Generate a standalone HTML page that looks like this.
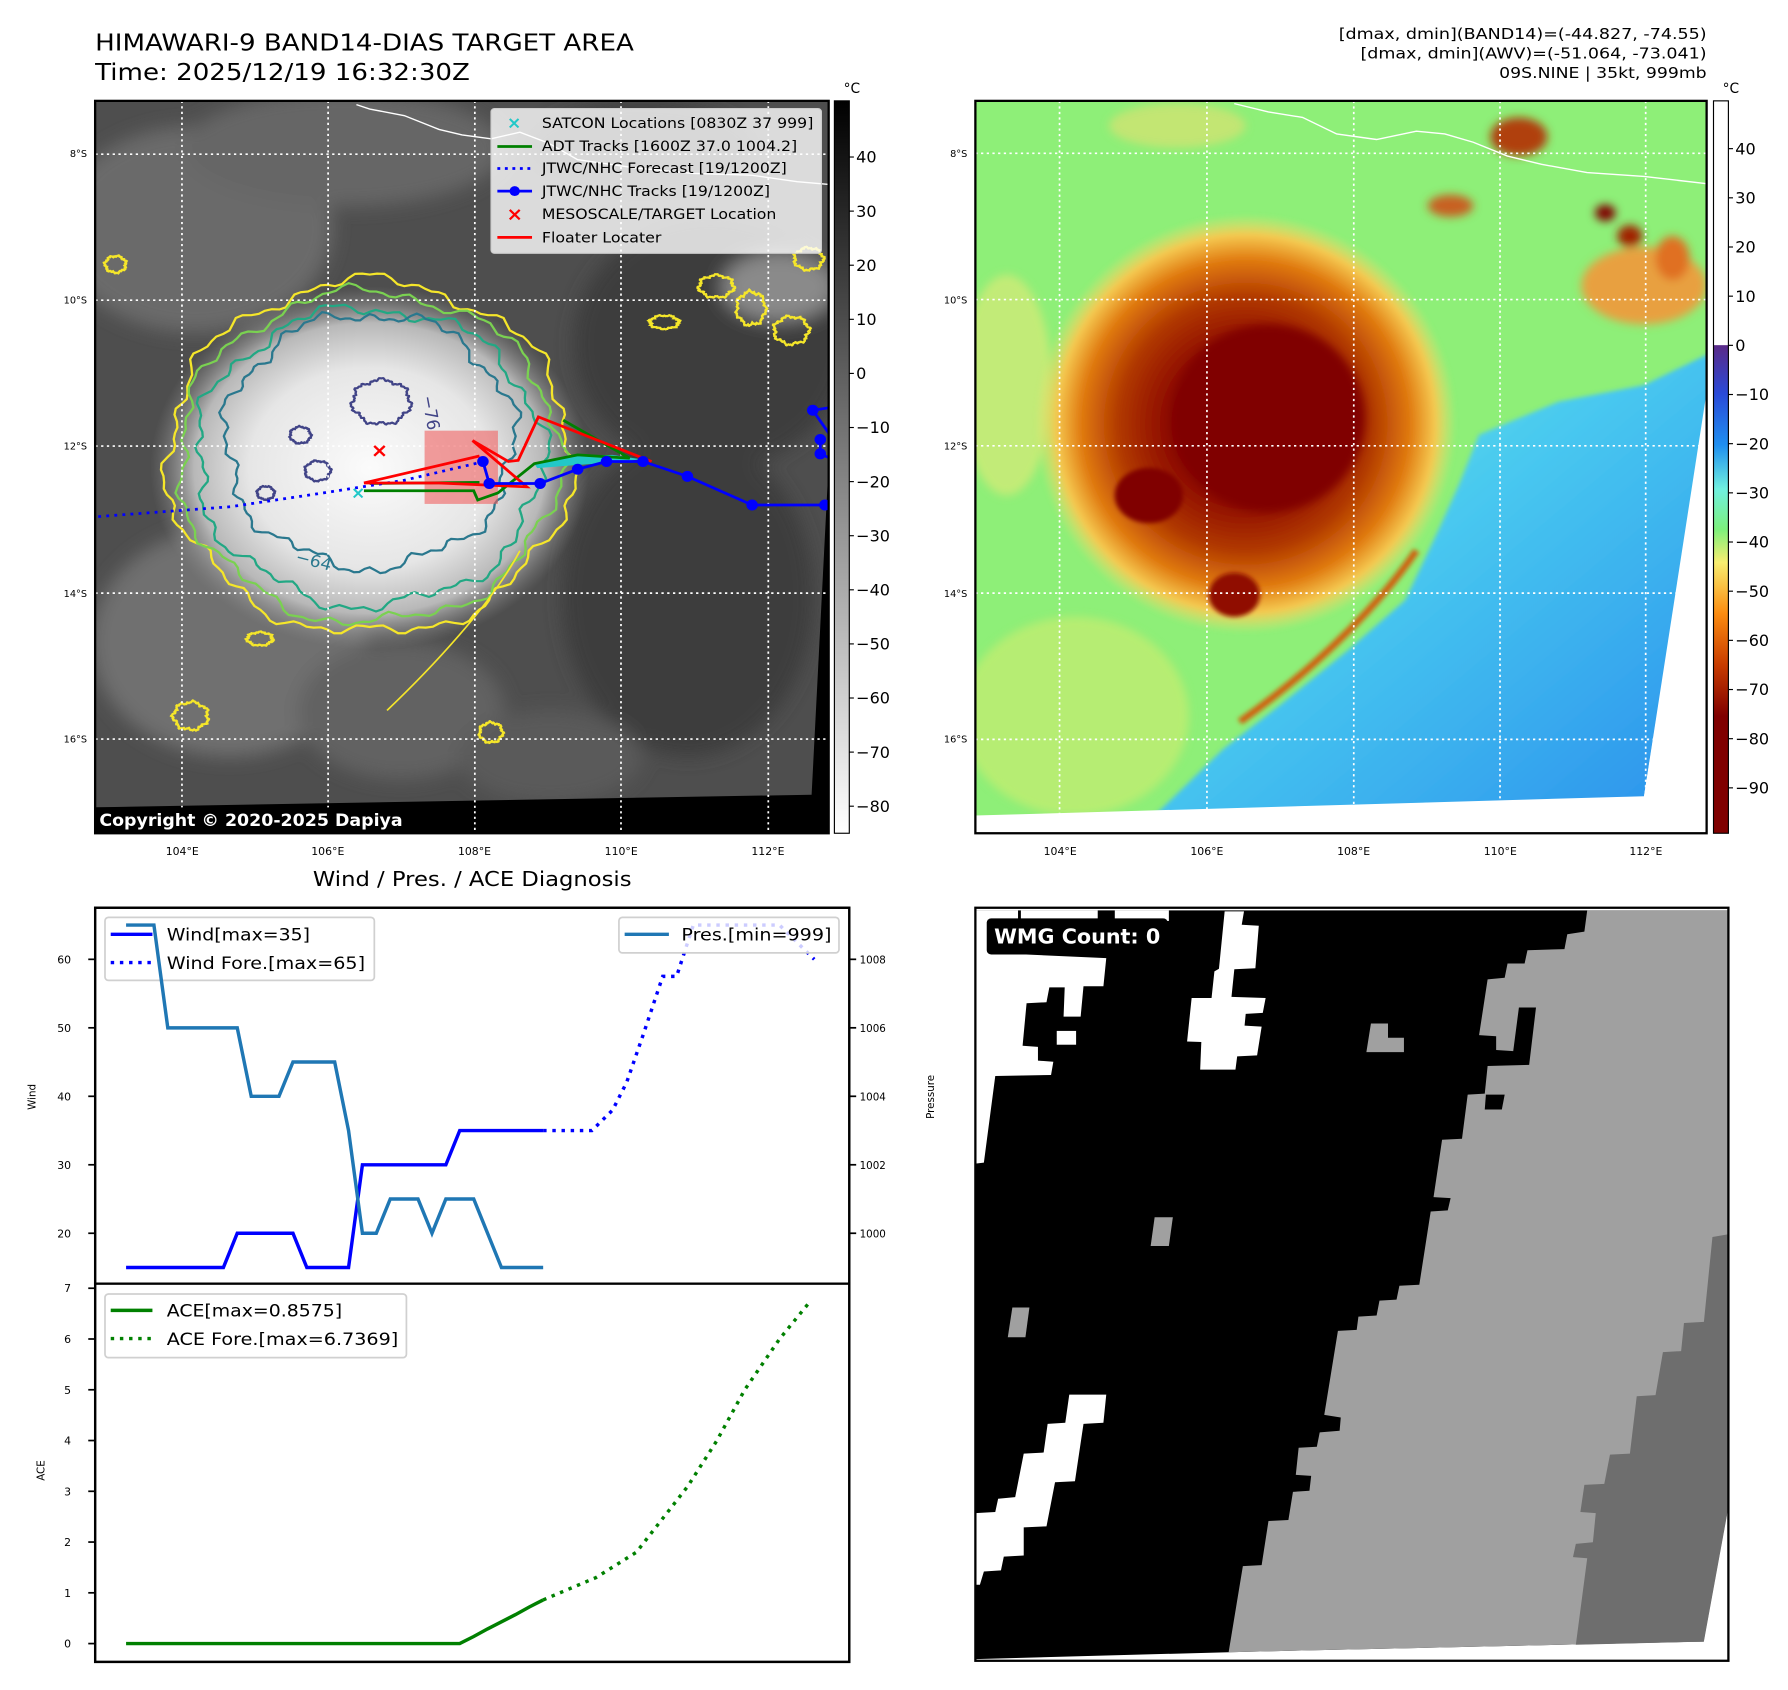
<!DOCTYPE html>
<html><head><meta charset="utf-8">
<style>
html,body{margin:0;padding:0;background:#fff;}
svg{display:block;}
text{font-family:"DejaVu Sans","Liberation Sans",sans-serif;}
</style></head>
<body>
<svg id="root" width="1788" height="1690" viewBox="0 0 1560 1474.5" preserveAspectRatio="none" xmlns="http://www.w3.org/2000/svg">
<defs>
  <linearGradient id="cbGray" x1="0" y1="0" x2="0" y2="1">
    <stop offset="0" stop-color="#000"/><stop offset="1" stop-color="#fff"/>
  </linearGradient>
  <linearGradient id="cbColor" x1="0" y1="0" x2="0" y2="1">
    <stop offset="0" stop-color="#fff"/>
    <stop offset="0.333" stop-color="#fff"/>
    <stop offset="0.334" stop-color="#5a2a88"/>
    <stop offset="0.40" stop-color="#2a4ad8"/>
    <stop offset="0.47" stop-color="#1f8ff0"/>
    <stop offset="0.53" stop-color="#70f0e0"/>
    <stop offset="0.585" stop-color="#7cf07c"/>
    <stop offset="0.63" stop-color="#f8ee70"/>
    <stop offset="0.70" stop-color="#fb8c10"/>
    <stop offset="0.77" stop-color="#c83c00"/>
    <stop offset="0.84" stop-color="#800000"/>
    <stop offset="1" stop-color="#800000"/>
  </linearGradient>
  <radialGradient id="cloudW" cx="0.5" cy="0.5" r="0.5">
    <stop offset="0" stop-color="#fbfbfb"/><stop offset="0.55" stop-color="#e6e6e6"/>
    <stop offset="0.8" stop-color="#b8b8b8"/><stop offset="1" stop-color="#888" stop-opacity="0"/>
  </radialGradient>
  <radialGradient id="stormR" cx="0.5" cy="0.5" r="0.5">
    <stop offset="0" stop-color="#7a0000"/><stop offset="0.35" stop-color="#8a0600"/>
    <stop offset="0.6" stop-color="#b03800"/><stop offset="0.78" stop-color="#e07a10"/>
    <stop offset="0.9" stop-color="#f5c850"/><stop offset="1" stop-color="#f5e070" stop-opacity="0"/>
  </radialGradient>
  <linearGradient id="oceanB" x1="0" y1="0" x2="1" y2="1">
    <stop offset="0" stop-color="#78f2d8"/><stop offset="0.45" stop-color="#48c8f0"/><stop offset="1" stop-color="#2a90ec"/>
  </linearGradient>
  <filter id="blur8"><feGaussianBlur stdDeviation="8"/></filter>
  <filter id="blur4"><feGaussianBlur stdDeviation="4"/></filter>
  <clipPath id="clipTL"><rect x="83" y="88" width="640" height="639"/></clipPath>
  <clipPath id="clipTR"><rect x="851" y="88" width="638" height="639"/></clipPath>
  <clipPath id="clipBR"><rect x="851" y="792" width="657" height="657"/></clipPath>
  <clipPath id="clipUp"><rect x="83" y="792" width="658" height="328"/></clipPath>
  <clipPath id="clipLo"><rect x="83" y="1120" width="658" height="330"/></clipPath>
</defs>

<!-- ============ TITLES ============ -->
<text x="83" y="44" font-size="20" textLength="470" lengthAdjust="spacingAndGlyphs">HIMAWARI-9 BAND14-DIAS TARGET AREA</text>
<text x="83" y="70" font-size="20" textLength="327" lengthAdjust="spacingAndGlyphs">Time: 2025/12/19 16:32:30Z</text>
<g font-size="13" text-anchor="end">
  <text x="1489" y="34" textLength="321" lengthAdjust="spacingAndGlyphs">[dmax, dmin](BAND14)=(-44.827, -74.55)</text>
  <text x="1489" y="51" textLength="302" lengthAdjust="spacingAndGlyphs">[dmax, dmin](AWV)=(-51.064, -73.041)</text>
  <text x="1489" y="68" textLength="181" lengthAdjust="spacingAndGlyphs">09S.NINE | 35kt, 999mb</text>
</g>

<!-- ============ TOP-LEFT MAP ============ -->
<g>
 <g clip-path="url(#clipTL)">
  <rect x="83" y="88" width="640" height="639" fill="#4e4e4e"/>
  <g filter="url(#blur8)">
    <ellipse cx="170" cy="200" rx="120" ry="90" fill="#6a6a6a"/>
    <ellipse cx="300" cy="130" rx="140" ry="50" fill="#666"/>
    <ellipse cx="200" cy="560" rx="120" ry="100" fill="#707070"/>
    <ellipse cx="350" cy="620" rx="90" ry="60" fill="#626262"/>
    <ellipse cx="620" cy="300" rx="120" ry="110" fill="#3c3c3c"/>
    <ellipse cx="600" cy="520" rx="110" ry="140" fill="#3e3e3e"/>
    <ellipse cx="560" cy="130" rx="100" ry="40" fill="#3d3d3d"/>
    <ellipse cx="680" cy="250" rx="50" ry="30" fill="#8a8a8a"/>
    <ellipse cx="480" cy="660" rx="80" ry="40" fill="#5a5a5a"/>
  </g>
  <g transform="matrix(0.504,0,0,0.4805,0,0)">
    <ellipse cx="640" cy="850" rx="380" ry="330" fill="url(#cloudW)"/>
    <g id="contours" fill="none" stroke-width="4"></g>
    <polygon points="1437,790 1437,1520 160,1520 160,1466 1405,1443" fill="#000"/>
    <polyline points="617,190 640,198 700,210 760,235 800,245 850,252 900,240 950,260 1000,290 1100,305 1200,315 1300,318 1380,330 1437,335" fill="none" stroke="#fff" stroke-width="2.5"/>
    <g stroke="#fff" stroke-width="3" stroke-dasharray="4,6">
      <line x1="315" y1="183" x2="315" y2="1513"/><line x1="568" y1="183" x2="568" y2="1513"/>
      <line x1="822" y1="183" x2="822" y2="1513"/><line x1="1075" y1="183" x2="1075" y2="1513"/>
      <line x1="1330" y1="183" x2="1330" y2="1513"/>
      <line x1="165" y1="280" x2="1435" y2="280"/><line x1="165" y1="545" x2="1435" y2="545"/>
      <line x1="165" y1="810" x2="1435" y2="810"/><line x1="165" y1="1077" x2="1435" y2="1077"/>
      <line x1="165" y1="1342" x2="1435" y2="1342"/>
    </g>
    <rect x="735" y="782" width="127" height="133" fill="#f06060" fill-opacity="0.6"/>
    <path d="M925,842 L1000,828 L1060,826 L1110,834 L1060,840 L990,845 L930,850 Z" fill="#22c8c8"/>
    <polyline points="630,891 820,891 827,908 862,895 925,842 1000,826 1090,832 975,763" fill="none" stroke="#008000" stroke-width="5"/>
    <polyline points="640,878 830,876" fill="none" stroke="#008000" stroke-width="5"/>
    <polyline points="170,938 400,920 560,895 700,872 830,840" fill="none" stroke="#0000ff" stroke-width="5" stroke-dasharray="5,9"/>
    <path d="M630,877 L830,828 M630,877 L760,877 L912,884 L818,800 L880,838 L897,836 L932,757 L1128,838" fill="none" stroke="#ff0000" stroke-width="5"/>
    <g>
      <polyline points="836,838 847,878 935,878 1000,852 1050,838 1113,838 1190,865 1302,917 1437,917" fill="none" stroke="#0000ff" stroke-width="5"/>
      <polyline points="1437,740 1407,745 1437,790" fill="none" stroke="#0000ff" stroke-width="5"/>
      <polyline points="1420,798 1420,824 1437,832" fill="none" stroke="#0000ff" stroke-width="5"/>
      <g fill="#0000ff">
        <circle cx="836" cy="838" r="10"/><circle cx="847" cy="878" r="10"/><circle cx="935" cy="878" r="10"/>
        <circle cx="1000" cy="852" r="10"/><circle cx="1050" cy="838" r="10"/><circle cx="1113" cy="838" r="10"/>
        <circle cx="1190" cy="865" r="10"/><circle cx="1302" cy="917" r="10"/><circle cx="1428" cy="917" r="10"/>
        <circle cx="1407" cy="745" r="10"/><circle cx="1420" cy="798" r="10"/><circle cx="1420" cy="824" r="10"/>
      </g>
    </g>
    <text x="657" y="830" font-size="36" fill="#ff0000" text-anchor="middle" font-weight="bold">×</text>
    <text x="620" y="905" font-size="30" fill="#22c8c8" text-anchor="middle" font-weight="bold">×</text>
    <text x="730" y="720" font-size="30" fill="#414487" transform="rotate(80 730 720)">−76</text>
    <text x="510" y="1020" font-size="30" fill="#2a788e" transform="rotate(15 510 1020)">−64</text>
    <g>
      <rect x="850" y="197" width="572" height="263" rx="6" fill="#fff" fill-opacity="0.8" stroke="#ccc" stroke-width="2"/>
      <g font-size="25" fill="#000">
        <text x="890" y="233" font-size="30" fill="#22c8c8" text-anchor="middle" font-weight="bold">×</text>
        <text x="938" y="232" textLength="470" lengthAdjust="spacingAndGlyphs">SATCON Locations [0830Z 37 999]</text>
        <line x1="861" y1="266" x2="921" y2="266" stroke="#008000" stroke-width="5"/>
        <text x="938" y="274" textLength="442" lengthAdjust="spacingAndGlyphs">ADT Tracks [1600Z 37.0 1004.2]</text>
        <line x1="861" y1="306" x2="921" y2="306" stroke="#0000ff" stroke-width="5" stroke-dasharray="5,8"/>
        <text x="938" y="314" textLength="424" lengthAdjust="spacingAndGlyphs">JTWC/NHC Forecast [19/1200Z]</text>
        <line x1="861" y1="347" x2="921" y2="347" stroke="#0000ff" stroke-width="5"/><circle cx="891" cy="347" r="9" fill="#0000ff"/>
        <text x="938" y="356" textLength="395" lengthAdjust="spacingAndGlyphs">JTWC/NHC Tracks [19/1200Z]</text>
        <text x="891" y="400" font-size="34" fill="#ff0000" text-anchor="middle" font-weight="bold">×</text>
        <text x="938" y="398" textLength="406" lengthAdjust="spacingAndGlyphs">MESOSCALE/TARGET Location</text>
        <line x1="861" y1="431" x2="921" y2="431" stroke="#ff0000" stroke-width="5"/>
        <text x="938" y="440" textLength="207" lengthAdjust="spacingAndGlyphs">Floater Locater</text>
      </g>
    </g>
    <rect x="160" y="1466" width="545" height="50" fill="#000"/>
    <text x="172" y="1500" font-size="30" fill="#fff" font-weight="bold" textLength="525" lengthAdjust="spacingAndGlyphs">Copyright © 2020-2025 Dapiya</text>
  </g>
 </g>
 <rect x="83" y="88" width="640" height="639" fill="none" stroke="#000" stroke-width="2"/>
 <g font-size="8.5" text-anchor="end">
  <text x="76" y="137">8°S</text><text x="76" y="265">10°S</text><text x="76" y="392">12°S</text>
  <text x="76" y="521">14°S</text><text x="76" y="648">16°S</text>
 </g>
 <g font-size="9.5" text-anchor="middle">
  <text x="159" y="746">104°E</text><text x="286" y="746">106°E</text><text x="414" y="746">108°E</text>
  <text x="542" y="746">110°E</text><text x="670" y="746">112°E</text>
 </g>
 <g>
  <rect x="728" y="88" width="13" height="639" fill="url(#cbGray)" stroke="#000" stroke-width="1"/>
  <text x="736" y="81" font-size="12">°C</text>
  <g id="cbTicksL" font-size="14"></g>
 </g>
</g>

<!-- ============ TOP-RIGHT MAP ============ -->
<g>
 <g clip-path="url(#clipTR)">
  <rect x="851" y="88" width="638" height="639" fill="#8eef78"/>
  <g transform="matrix(0.4965,0,0,0.4815,788.9,-1.08)">
    <g filter="url(#blur8)">
      <ellipse cx="300" cy="1300" rx="200" ry="180" fill="#c8ec70" opacity="0.7"/>
      <ellipse cx="180" cy="700" rx="80" ry="200" fill="#d8ea78" opacity="0.7"/>
      <ellipse cx="1300" cy="520" rx="110" ry="70" fill="#e8a040"/>
      <ellipse cx="1080" cy="250" rx="50" ry="35" fill="#b04010"/>
      <ellipse cx="1232" cy="388" rx="18" ry="15" fill="#800000"/>
      <ellipse cx="1275" cy="430" rx="22" ry="20" fill="#a02000"/>
      <ellipse cx="960" cy="375" rx="40" ry="20" fill="#c86020"/>
      <ellipse cx="1350" cy="470" rx="30" ry="40" fill="#e07020"/>
      <ellipse cx="480" cy="230" rx="120" ry="40" fill="#e6e070" opacity="0.6"/>
    </g>
    <path d="M1420,640 L1300,700 L1150,730 L1010,790 L975,880 L940,960 L880,1090 L780,1180 L660,1280 L560,1360 L440,1480 L1420,1480 Z" fill="url(#oceanB)" filter="url(#blur4)"/>
    <ellipse cx="600" cy="770" rx="370" ry="380" fill="url(#stormR)" filter="url(#blur4)"/>
    <ellipse cx="640" cy="760" rx="170" ry="170" fill="#800000" filter="url(#blur8)"/>
    <ellipse cx="430" cy="900" rx="60" ry="50" fill="#800000" filter="url(#blur4)"/>
    <path d="M900,1000 C820,1120 700,1230 590,1310" stroke="#d06010" stroke-width="12" fill="none" filter="url(#blur4)"/>
    <ellipse cx="580" cy="1080" rx="45" ry="40" fill="#901000" filter="url(#blur4)"/>
    <polygon points="1412,720 1300,1445 125,1480 125,1520 1420,1520" fill="#fff"/>
    <polygon points="1300,1445 1412,700 1420,700 1420,1520" fill="#fff"/>
    <polyline points="580,190 640,205 700,215 760,245 830,255 900,240 950,245 1000,260 1060,285 1120,300 1200,315 1300,322 1410,335" fill="none" stroke="#fff" stroke-width="2.5"/>
    <g stroke="#fff" stroke-width="3" stroke-dasharray="4,6">
      <line x1="273" y1="185" x2="273" y2="1512"/><line x1="532" y1="185" x2="532" y2="1512"/>
      <line x1="790" y1="185" x2="790" y2="1512"/><line x1="1047" y1="185" x2="1047" y2="1512"/>
      <line x1="1303" y1="185" x2="1303" y2="1512"/>
      <line x1="125" y1="280" x2="1410" y2="280"/><line x1="125" y1="545" x2="1410" y2="545"/>
      <line x1="125" y1="810" x2="1410" y2="810"/><line x1="125" y1="1077" x2="1410" y2="1077"/>
      <line x1="125" y1="1342" x2="1410" y2="1342"/>
    </g>
  </g>
 </g>
 <rect x="851" y="88" width="638" height="639" fill="none" stroke="#000" stroke-width="2"/>
 <g font-size="8.5" text-anchor="end">
  <text x="844" y="137">8°S</text><text x="844" y="265">10°S</text><text x="844" y="392">12°S</text>
  <text x="844" y="521">14°S</text><text x="844" y="648">16°S</text>
 </g>
 <g font-size="9.5" text-anchor="middle">
  <text x="925" y="746">104°E</text><text x="1053" y="746">106°E</text><text x="1181" y="746">108°E</text>
  <text x="1309" y="746">110°E</text><text x="1436" y="746">112°E</text>
 </g>
 <g>
  <rect x="1495" y="88" width="13" height="639" fill="url(#cbColor)" stroke="#000" stroke-width="1"/>
  <text x="1503" y="81" font-size="12">°C</text>
  <g id="cbTicksR" font-size="14"></g>
 </g>
</g>

<!-- ============ DIAGNOSIS CHART ============ -->
<text x="412" y="773" font-size="18" text-anchor="middle" textLength="278" lengthAdjust="spacingAndGlyphs">Wind / Pres. / ACE Diagnosis</text>
<g id="chart"></g>

<!-- ============ WMG PANEL ============ -->
<g>
 <g clip-path="url(#clipBR)">
  <rect x="851" y="792" width="657" height="657" fill="#fff"/>
  <g transform="matrix(0.4966,0,0,0.4633,788.9,754.9)">
    <polygon points="125,85 1448,85 1448,1210 1405,1462 570,1482 125,1495" fill="#000"/>
    <polygon points="1200,85 1448,85 1448,1210 1405,1462 570,1482 595,1320 628,1318 640,1235 675,1233 683,1180 712,1178 715,1150 688,1148 693,1097 725,1095 730,1068 765,1065 767,1040 738,1035 762,877 795,875 798,850 830,848 835,820 865,818 870,792 905,790 925,652 955,650 960,627 930,625 945,517 980,515 990,432 1020,430 1025,378 1098,376 1110,268 1080,268 1070,350 1040,348 1040,322 1010,320 1025,215 1055,212 1060,185 1090,185 1095,160 1160,158 1165,130 1195,125" fill="#a0a0a0"/>
    <polygon points="1022,432 1055,432 1050,460 1020,460" fill="#000"/>
    <polygon points="1448,695 1420,700 1405,860 1370,862 1365,915 1333,917 1320,998 1287,1000 1275,1108 1240,1110 1230,1165 1195,1167 1188,1218 1215,1220 1210,1275 1180,1278 1175,1303 1200,1305 1180,1468 1405,1462 1448,1210" fill="#6e6e6e"/>
    <polygon points="1405,1462 1448,1210 1448,1500 1400,1500" fill="#fff"/>
    <g fill="#fff">
      <rect x="205" y="85" width="135" height="20"/><rect x="370" y="85" width="95" height="20"/>
      <polygon points="125,85 200,85 200,105 150,105 150,165 355,175 350,228 315,228 310,285 280,285 282,230 255,230 250,258 215,260 208,340 235,342 235,368 262,370 258,395 160,397 140,560 125,562"/>
      <rect x="268" y="312" width="34" height="26"/>
      <polygon points="563,87 597,87 593,112 623,114 617,194 580,196 575,248 635,250 630,278 600,280 598,302 628,304 620,358 585,360 582,385 520,385 522,333 497,332 505,250 540,250 545,200 553,195"/>
      <polygon points="290,997 355,997 350,1050 315,1052 300,1160 265,1162 250,1245 210,1247 210,1300 175,1302 170,1328 140,1330 133,1355 125,1355 125,1220 160,1218 165,1193 195,1190 210,1108 245,1106 252,1052 283,1050"/>
    </g>
    <g fill="#a0a0a0">
      <polygon points="820,298 850,298 850,325 878,325 878,352 812,352"/>
      <polygon points="440,663 472,663 465,717 433,717"/>
      <polygon points="190,833 220,833 213,889 182,889"/>
    </g>
    <rect x="145" y="100" width="318" height="68" rx="8" fill="#000"/>
    <text x="158" y="147" font-size="38" font-weight="bold" fill="#fff" textLength="292" lengthAdjust="spacingAndGlyphs">WMG Count: 0</text>
  </g>
 </g>
 <rect x="851" y="792" width="657" height="657" fill="none" stroke="#000" stroke-width="2"/>
</g>

<script>
// ---------------- Chart data ----------------
const windVals = [15,15,15,15,15,15,15,15,20,20,20,20,20,15,15,15,15,30,30,30,30,30,30,30,35,35,35,35,35,35,35];
const presVals = [1009,1009,1009,1006,1006,1006,1006,1006,1006,1004,1004,1004,1005,1005,1005,1005,1003,1000,1000,1001,1001,1001,1000,1001,1001,1001,1000,999,999,999,999];
const windForeX = [30,33.5,35,36,37.2,38.6,39.6,40.8,47,49.5];
const windForeVals = [35,35,38,42,49,57.5,57.5,65,65,60];
const aceVals = [0,0,0,0,0,0,0,0,0,0,0,0,0,0,0,0,0,0,0,0,0,0,0,0,0,0.14,0.29,0.43,0.57,0.72,0.86];
const aceForeX = [30,33.8,36.7,38.7,40.4,42.5,44.5,47,49.2];
const aceForeVals = [0.86,1.3,1.8,2.5,3.1,4.0,5.0,6.0,6.74];
const windTicks = [20,30,40,50,60];
const presTicks = [1000,1002,1004,1006,1008];
const aceTicks = [0,1,2,3,4,5,6,7];
const irTicks = [40,30,20,10,0,-10,-20,-30,-40,-50,-60,-70,-80];
const awvTicks = [40,30,20,10,0,-10,-20,-30,-40,-50,-60,-70,-80,-90];

const NS='http://www.w3.org/2000/svg';
function mk(tag, attrs, parent){const e=document.createElementNS(NS,tag);for(const k in attrs)e.setAttribute(k,attrs[k]);parent.appendChild(e);return e;}

const xS = i => 110 + i*12.13;
const yW = v => 1076 - (v-20)*5.975;
const yP = p => 1076 - (p-1000)*29.875;
const yA = a => 1434 - a*44.29;
const irY = v => 325.8 - v*4.72;
const awvY = v => 301.3 - v*4.29;

const chart=document.getElementById('chart');
const up=mk('rect',{x:83,y:792,width:658,height:328,fill:'#fff',stroke:'#000','stroke-width':2},chart);


const lo=mk('rect',{x:83,y:1120,width:658,height:330,fill:'#fff',stroke:'#000','stroke-width':2},chart);



function pts(xs,ys,fx,fy){return xs.map((x,i)=>fx(x).toFixed(1)+','+fy(ys[i]).toFixed(1)).join(' ');}
const idx=windVals.map((_,i)=>i);

windTicks.forEach(t=>{
  const y=yW(t);
  mk('line',{x1:77,y1:y,x2:83,y2:y,stroke:'#000','stroke-width':1.5},chart);
  const tx=mk('text',{x:62,y:y+3.5,'font-size':9.5,'text-anchor':'end'},chart);tx.textContent=t;
  
  
});
presTicks.forEach(t=>{
  const y=yP(t);
  mk('line',{x1:741,y1:y,x2:747,y2:y,stroke:'#000','stroke-width':1.5},chart);
  const tx=mk('text',{x:750,y:y+3.5,'font-size':9},chart);tx.textContent=t;
  
  
});
aceTicks.forEach(t=>{
  const y=yA(t);
  mk('line',{x1:77,y1:y,x2:83,y2:y,stroke:'#000','stroke-width':1.5},chart);
  const tx=mk('text',{x:62,y:y+3.5,'font-size':9.5,'text-anchor':'end'},chart);tx.textContent=t;
  
  
});
let t1=mk('text',{x:31,y:957,'font-size':9,'text-anchor':'middle',transform:'rotate(-90 31 957)'},chart);t1.textContent='Wind';


let t2=mk('text',{x:815,y:957,'font-size':9,'text-anchor':'middle',transform:'rotate(-90 815 957)'},chart);t2.textContent='Pressure';


let t3=mk('text',{x:39,y:1283,'font-size':9,'text-anchor':'middle',transform:'rotate(-90 39 1283)'},chart);t3.textContent='ACE';



const gUp=mk('g',{'clip-path':'url(#clipUp)'},chart);
const wl=mk('polyline',{points:pts(idx,windVals,xS,yW),fill:'none',stroke:'#0000ff','stroke-width':3},gUp);


const wf=mk('polyline',{points:pts(windForeX,windForeVals,xS,yW),fill:'none',stroke:'#0000ff','stroke-width':3,'stroke-dasharray':'3,5'},gUp);


const lg1=mk('g',{},gUp);


mk('rect',{x:91.6,y:800.4,width:235,height:55,rx:3,fill:'#fff','fill-opacity':0.8,stroke:'#d0d0d0','stroke-width':1.5},lg1);
mk('line',{x1:96.6,y1:815.2,x2:133,y2:815.2,stroke:'#0000ff','stroke-width':3},lg1);
mk('line',{x1:96.6,y1:839.8,x2:133,y2:839.8,stroke:'#0000ff','stroke-width':3,'stroke-dasharray':'3,5'},lg1);
let lt=mk('text',{x:145.5,y:820.5,'font-size':15,textLength:125,lengthAdjust:'spacingAndGlyphs'},lg1);lt.textContent='Wind[max=35]';
lt=mk('text',{x:145.5,y:845.5,'font-size':15,textLength:173,lengthAdjust:'spacingAndGlyphs'},lg1);lt.textContent='Wind Fore.[max=65]';
const pl=mk('polyline',{points:pts(idx,presVals,xS,yP),fill:'none',stroke:'#1f77b4','stroke-width':3},gUp);


const lg2=mk('g',{},gUp);


mk('rect',{x:540,y:800.4,width:192,height:31,rx:3,fill:'#fff','fill-opacity':0.8,stroke:'#d0d0d0','stroke-width':1.5},lg2);
mk('line',{x1:545,y1:815.2,x2:583.6,y2:815.2,stroke:'#1f77b4','stroke-width':3},lg2);
lt=mk('text',{x:594.5,y:820.5,'font-size':15,textLength:131,lengthAdjust:'spacingAndGlyphs'},lg2);lt.textContent='Pres.[min=999]';

const gLo=mk('g',{'clip-path':'url(#clipLo)'},chart);
const al=mk('polyline',{points:pts(idx,aceVals,xS,yA),fill:'none',stroke:'#008000','stroke-width':3},gLo);


const af=mk('polyline',{points:pts(aceForeX,aceForeVals,xS,yA),fill:'none',stroke:'#008000','stroke-width':3,'stroke-dasharray':'3,5'},gLo);


const lg3=mk('g',{},gLo);


mk('rect',{x:91.6,y:1129,width:263,height:55.5,rx:3,fill:'#fff','fill-opacity':0.8,stroke:'#d0d0d0','stroke-width':1.5},lg3);
mk('line',{x1:96.6,y1:1143.3,x2:133,y2:1143.3,stroke:'#008000','stroke-width':3},lg3);
mk('line',{x1:96.6,y1:1167.9,x2:133,y2:1167.9,stroke:'#008000','stroke-width':3,'stroke-dasharray':'3,5'},lg3);
lt=mk('text',{x:145.5,y:1148.5,'font-size':15,textLength:153,lengthAdjust:'spacingAndGlyphs'},lg3);lt.textContent='ACE[max=0.8575]';
lt=mk('text',{x:145.5,y:1173.5,'font-size':15,textLength:202,lengthAdjust:'spacingAndGlyphs'},lg3);lt.textContent='ACE Fore.[max=6.7369]';
mk('rect',{x:83,y:792,width:658,height:658,fill:'none',stroke:'#000','stroke-width':2},chart);
mk('line',{x1:83,y1:1120,x2:741,y2:1120,stroke:'#000','stroke-width':1.5},chart);

const cbL=document.getElementById('cbTicksL');
irTicks.forEach(t=>{const y=irY(t);
  mk('line',{x1:741,y1:y,x2:745,y2:y,stroke:'#000','stroke-width':1},cbL);
  const tx=mk('text',{x:747,y:y+5},cbL);tx.textContent=(t<0?'\u2212'+(-t):t);
  
  
});
const cbR=document.getElementById('cbTicksR');
awvTicks.forEach(t=>{const y=awvY(t);
  mk('line',{x1:1508,y1:y,x2:1512,y2:y,stroke:'#000','stroke-width':1},cbR);
  const tx=mk('text',{x:1514,y:y+5},cbR);tx.textContent=(t<0?'\u2212'+(-t):t);
  
  
});

// IR contours (imagery decoration)
const cg=document.getElementById('contours');
function blob(cx,cy,rx,ry,amp,ph){let d='';for(let k=0;k<=180;k++){const a=k/180*Math.PI*2;
  const r=1+amp*(Math.sin(7*a+ph)*0.5+Math.sin(19*a+ph*2)*0.3+Math.sin(41*a+ph)*0.2);
  const x=cx+rx*r*Math.cos(a),y=cy+ry*r*Math.sin(a);d+=(k?'L':'M')+x.toFixed(1)+','+y.toFixed(1);}return d+'Z';}
[[640,830,350,320,0.06,0,'#f5e62a'],[640,830,330,300,0.06,1,'#7ad151'],[640,830,300,270,0.07,2,'#22a884'],[640,800,250,230,0.08,3,'#2a788e']].forEach(c=>{
  const p=mk('path',{d:blob(c[0],c[1],c[2],c[3],c[4],c[5]),stroke:c[6]},cg);
  
  
});
[[660,730,50,40],[520,790,18,15],[550,855,22,18],[460,895,15,12]].forEach((c,i)=>{
  mk('path',{d:blob(c[0],c[1],c[2],c[3],0.12,i),stroke:'#414487'},cg);
});
mk('path',{d:'M900,1000 C850,1100 740,1220 670,1290',stroke:'#f5e62a','stroke-width':3},cg);
[[1240,520,30,20],[1300,560,25,30],[1370,600,30,25],[1150,585,25,12],[200,480,18,15],[330,1300,30,25],[450,1160,22,12],[850,1330,20,18],[1400,470,25,20]].forEach((c,i)=>{
  mk('path',{d:blob(c[0],c[1],c[2],c[3],0.15,i),stroke:'#f5e62a'},cg);
});
</script>
</svg>
</body></html>
